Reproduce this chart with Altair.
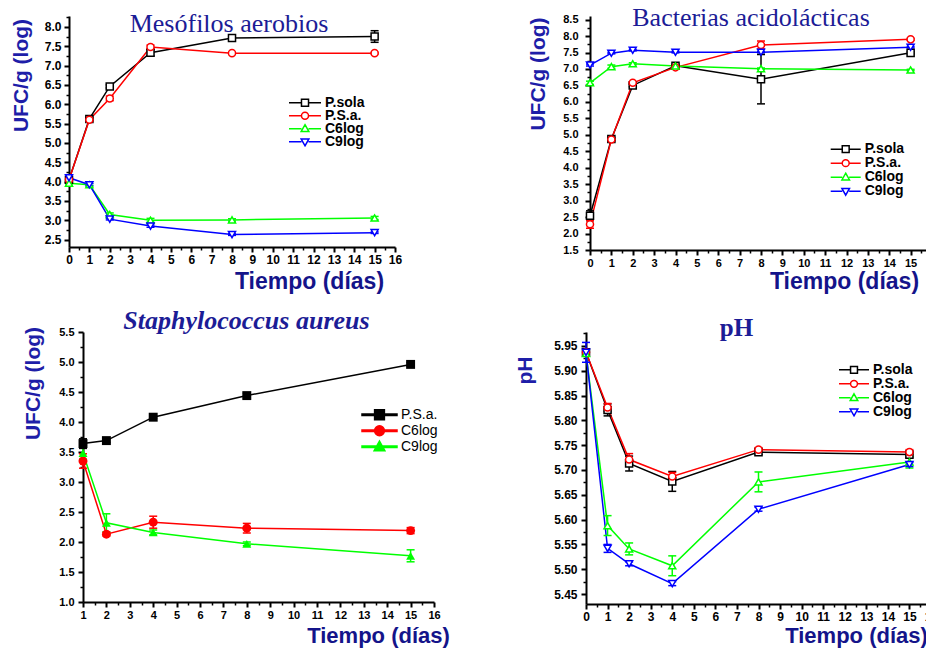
import altair as alt
import pandas as pd

# ---------------- data ----------------
SERIES4 = ["P.sola", "P.S.a.", "C6log", "C9log"]
SERIES3 = ["P.S.a.", "C6log", "C9log"]
COLORS4 = ["#000000", "#ff0000", "#00ff00", "#0000ff"]
COLORS3 = ["#000000", "#ff0000", "#00ff00"]
SHAPES4 = ["square", "circle", "triangle-up", "triangle-down"]
SHAPES3 = ["square", "circle", "triangle-up"]

days_meso = [0, 1, 2, 4, 8, 15]
meso_psola = [4.05, 5.62, 6.46, 7.33, 7.71, 7.75]
meso_psola_err = [0.04, 0.03, 0.04, 0.08, 0.05, 0.15]
meso_psa = [4.05, 5.60, 6.15, 7.48, 7.32, 7.32]
meso_psa_err = [0.03, 0.04, 0.06, 0.05, 0.02, 0.02]
meso_c6 = [3.96, 3.92, 3.15, 3.00, 3.01, 3.06]
meso_c6_err = [0.05, 0.03, 0.04, 0.05, 0.03, 0.04]
meso_c9 = [4.10, 3.92, 3.03, 2.85, 2.63, 2.68]
meso_c9_err = [0.03, 0.03, 0.02, 0.03, 0.02, 0.02]

days_bal = [0, 1, 2, 4, 8, 15]
bal_psola = [2.54, 4.87, 6.50, 7.10, 6.69, 7.49]
bal_psola_err = [0.15, 0.05, 0.04, 0.04, 0.75, 0.03]
bal_psa = [2.28, 4.86, 6.58, 7.05, 7.73, 7.90]
bal_psa_err = [0.12, 0.03, 0.03, 0.05, 0.12, 0.03]
bal_c6 = [6.58, 7.07, 7.16, 7.09, 7.01, 6.97]
bal_c6_err = [0.05, 0.05, 0.03, 0.03, 0.02, 0.02]
bal_c9 = [7.12, 7.48, 7.57, 7.51, 7.51, 7.66]
bal_c9_err = [0.03, 0.02, 0.02, 0.02, 0.02, 0.02]

days_sa = [1, 2, 4, 8, 15]
sa_psa = [3.64, 3.69, 4.08, 4.44, 4.96]
sa_psa_err = [0.08, 0.03, 0.02, 0.04, 0.03]
sa_c6 = [3.35, 2.13, 2.33, 2.23, 2.19]
sa_c6_err = [0.12, 0.03, 0.10, 0.08, 0.05]
sa_c9 = [3.48, 2.32, 2.16, 1.97, 1.77]
sa_c9_err = [0.10, 0.15, 0.04, 0.03, 0.10]

days_ph = [0, 1, 2, 4, 8, 15]
ph_psola = [5.937, 5.821, 5.713, 5.677, 5.736, 5.731]
ph_psola_err = [0.005, 0.012, 0.015, 0.02, 0.005, 0.005]
ph_psa = [5.937, 5.826, 5.721, 5.687, 5.741, 5.736]
ph_psa_err = [0.005, 0.008, 0.012, 0.008, 0.004, 0.005]
ph_c6 = [5.935, 5.588, 5.541, 5.507, 5.676, 5.716]
ph_c6_err = [0.005, 0.02, 0.012, 0.02, 0.02, 0.012]
ph_c9 = [5.937, 5.542, 5.511, 5.471, 5.621, 5.711]
ph_c9_err = [0.02, 0.008, 0.004, 0.004, 0.004, 0.004]

TITLE_BLUE = "#1c1c96"
AXIS_BLUE = "#14148a"
SANS = "Liberation Sans"
SERIF = "Liberation Serif"


def frame(days, names, vals, errs):
    rows = []
    for n, vs, es in zip(names, vals, errs):
        for d, v, e in zip(days, vs, es):
            rows.append(dict(day=d, value=v, lo=v - e, hi=v + e, series=n))
    return pd.DataFrame(rows)


def steps(a, b, step):
    n = int(round((b - a) / step))
    return [round(a + i * step, 4) for i in range(n + 1)]


def symbol_path(shape, m, filled, t):
    if filled:
        line = f"M-1,{-t}H1V{t}H-1Z"
    else:
        line = f"M-1,0H{-m}M{m},0H1"
    if shape == "square":
        mk = f"M{-m},{-m}H{m}V{m}H{-m}Z"
    elif shape == "circle":
        mk = f"M{-m},0A{m},{m},0,1,1,{m},0A{m},{m},0,1,1,{-m},0Z"
    elif shape == "triangle-up":
        mk = f"M0,{-m*1.15:.3f}L{m*1.1:.3f},{m*0.8:.3f}L{-m*1.1:.3f},{m*0.8:.3f}Z"
    else:
        mk = f"M0,{m*1.15:.3f}L{m*1.1:.3f},{-m*0.8:.3f}L{-m*1.1:.3f},{-m*0.8:.3f}Z"
    return line + mk


def make_legend(lx, ly, length, clip, rowpad, fsize, fweight):
    return alt.Legend(
        orient="none", legendX=lx, legendY=ly, title=None, padding=0,
        symbolSize=length * length, symbolStrokeWidth=1.5, symbolOpacity=1,
        clipHeight=clip, rowPadding=rowpad, labelOffset=3, labelFont=SANS,
        labelFontSize=fsize, labelFontWeight=fweight, labelColor="black",
    )


def x_axis(values, tx, ty, lsize, tsize=23):
    return alt.Axis(
        orient="bottom", values=values, format="d", grid=False,
        domainColor="black", domainWidth=2, tickColor="black", tickWidth=2,
        tickSize=5, labelFont=SANS, labelFontWeight="bold", labelFontSize=lsize,
        labelColor="black", labelPadding=2, labelOverlap=False, labelFlush=False,
        title="Tiempo (días)", titleFont=SANS, titleFontWeight="bold",
        titleFontSize=tsize, titleColor=AXIS_BLUE, titleX=tx, titleY=ty,
        titleAlign="center", titleBaseline="alphabetic", titleAngle=0,
    )


def y_axis(values, fmt, text, tx, ty, lsize, lpad, off):
    return alt.Axis(
        orient="left", values=values, format=fmt, grid=False, offset=off,
        domainColor="black", domainWidth=2, tickColor="black", tickWidth=2,
        tickSize=5, labelFont=SANS, labelFontWeight="bold", labelFontSize=lsize,
        labelColor="black", labelPadding=lpad, labelOverlap=False, labelFlush=False,
        title=text, titleFont=SANS, titleFontWeight="bold", titleFontSize=21,
        titleColor="#1e1ea8", titleX=tx, titleY=ty, titleAlign="center",
        titleBaseline="alphabetic", titleAngle=270,
    )


def minor_axis(orient, values, off=0):
    return alt.Axis(
        orient=orient, values=values, labels=False, domain=False, grid=False,
        tickColor="black", tickWidth=1.5, tickSize=3, title="", offset=off,
    )


def panel(df, names, colors, shapes, filled, msize, xdom, xrange, xmin, ydom, ymin,
          xax, yax, yoff, leg, m, w, h, ttl):
    xs = alt.Scale(domain=xdom, range=xrange, nice=False, zero=False)
    ys = alt.Scale(domain=ydom, nice=False, zero=False)
    cscale = alt.Scale(domain=names, range=colors)
    color = alt.Color("series:N", scale=cscale, legend=leg)
    base = alt.Chart(df)
    xn = alt.X("day:Q", scale=xs, axis=None)
    yn = alt.Y("value:Q", scale=ys, axis=None)
    layers = []
    # minor tick axes
    layers.append(base.mark_point(opacity=0).encode(
        x=alt.X("day:Q", scale=xs, axis=minor_axis("bottom", xmin)),
        y=alt.Y("value:Q", scale=ys, axis=minor_axis("left", ymin, yoff)),
    ))
    # legend carrier (invisible marks, custom line+marker legend symbols)
    paths = [symbol_path(s, m, filled, 0.045) for s in shapes]
    if filled:
        lm = base.mark_point(filled=True, opacity=0)
    else:
        lm = base.mark_point(filled=False, fill="white", strokeWidth=1.5, opacity=0)
    layers.append(lm.encode(
        x=xn, y=yn, color=color,
        shape=alt.Shape("series:N", scale=alt.Scale(domain=names, range=paths), legend=leg),
    ))
    layers.append(base.mark_line(strokeWidth=1.5).encode(
        x=alt.X("day:Q", scale=xs, axis=xax),
        y=alt.Y("value:Q", scale=ys, axis=yax),
        color=color,
    ))
    layers.append(base.mark_rule(strokeWidth=1.5).encode(
        x=xn, y=alt.Y("lo:Q", scale=ys, axis=None), y2="hi:Q", color=color))
    for fld in ["lo", "hi"]:
        layers.append(base.mark_point(shape="stroke", size=64, strokeWidth=1.5,
                                      filled=False, opacity=1).encode(
            x=xn, y=alt.Y(f"{fld}:Q", scale=ys, axis=None), color=color))
    for n, s in zip(names, shapes):
        b = base.transform_filter(alt.datum.series == n)
        if filled:
            mk = b.mark_point(shape=s, filled=True, size=msize, opacity=1)
        else:
            mk = b.mark_point(shape=s, filled=False, fill="white", size=msize,
                              strokeWidth=1.5, opacity=1)
        layers.append(mk.encode(x=xn, y=yn, color=color))
    return alt.layer(*layers).resolve_axis(
        x="independent", y="independent").properties(width=w, height=h, title=ttl)


def title(text, dx, off, style="normal", weight="normal", size=26):
    return alt.TitleParams(
        text=text, font=SERIF, fontSize=size, fontWeight=weight, fontStyle=style,
        color=TITLE_BLUE, anchor="middle", frame="group", offset=off,
        baseline="alphabetic", dx=dx,
    )


# ---------------- panels ----------------
x16 = steps(0, 16, 1)
x16m = steps(0.5, 15.5, 1)

p1 = panel(
    frame(days_meso, SERIES4, [meso_psola, meso_psa, meso_c6, meso_c9],
          [meso_psola_err, meso_psa_err, meso_c6_err, meso_c9_err]),
    SERIES4, COLORS4, SHAPES4, False, 50,
    [0, 16], [0, 326], x16m, [2.31, 8.28], steps(2.75, 8.25, 0.5),
    x_axis(x16, 240, 41, 12),
    y_axis(steps(2.5, 8.0, 0.5), ".1f", "UFC/g (log)", -42, 59, 12, 3, 0), 0,
    make_legend(219, 81, 32, 11.5, -6.4, 14, "bold"), 0.22,
    326, 231, title("Mesófilos aerobios", -3, -42),
)

p2 = panel(
    frame(days_bal, SERIES4, [bal_psola, bal_psa, bal_c6, bal_c9],
          [bal_psola_err, bal_psa_err, bal_c6_err, bal_c9_err]),
    SERIES4, COLORS4, SHAPES4, False, 50,
    [0, 16], [4, 346], x16m, [1.5, 8.61], steps(1.75, 8.25, 0.5),
    x_axis(x16, 258, 38, 11),
    y_axis(steps(1.5, 8.5, 0.5), ".1f", "UFC/g (log)", -46, 57.5, 11, 7, -4), -4,
    make_legend(243.7, 127, 30, 12.3, -5.6, 14, "bold"), 0.23,
    346, 234, title("Bacterias acidolácticas", -8, -38),
)

x3 = steps(1, 16, 1)
x3m = steps(1.5, 15.5, 1)
p3 = panel(
    frame(days_sa, SERIES3, [sa_psa, sa_c6, sa_c9], [sa_psa_err, sa_c6_err, sa_c9_err]),
    SERIES3, COLORS3, SHAPES3, True, 80,
    [1, 16], [14, 365], x3m, [1.0, 5.5], steps(1.25, 5.25, 0.5),
    x_axis(x3, 309, 40, 11, 22),
    y_axis(steps(1.0, 5.5, 0.5), ".1f", "UFC/g (log)", -44, 51, 11, 4, -14), -14,
    make_legend(292, 75, 35, 15.5, -2.4, 14, "normal"), 0.28,
    365, 270, title("Staphylococcus aureus", -5, -29, style="italic", weight="bold"),
)

p4 = panel(
    frame(days_ph, SERIES4, [ph_psola, ph_psa, ph_c6, ph_c9],
          [ph_psola_err, ph_psa_err, ph_c6_err, ph_c9_err]),
    SERIES4, COLORS4, SHAPES4, False, 50,
    [0, 16], [0, 345], x16m, [5.43, 5.978], steps(5.475, 5.975, 0.05),
    x_axis(x16, 270, 38, 12, 22),
    y_axis(steps(5.45, 5.95, 0.05), ".2f", "pH", -55, 38, 12, 4, 0), 0,
    make_legend(252, 31.5, 30, 12.7, -5.0, 14, "bold"), 0.23,
    345, 272, title("pH", -22, -29, weight="bold", size=25),
)

chart = alt.concat(
    p1, p2, p3, p4,
    columns=2,
    spacing=alt.RowColnumber(row=82, column=152),
    bounds="flush",
    align="each",
).resolve_scale(
    color="independent", shape="independent"
).properties(
    padding={"left": 2, "top": -4, "right": -13, "bottom": 5},
    background="white",
).configure_view(stroke=None)

chart.save("out.html", embed_options={"renderer": "svg", "actions": False})
